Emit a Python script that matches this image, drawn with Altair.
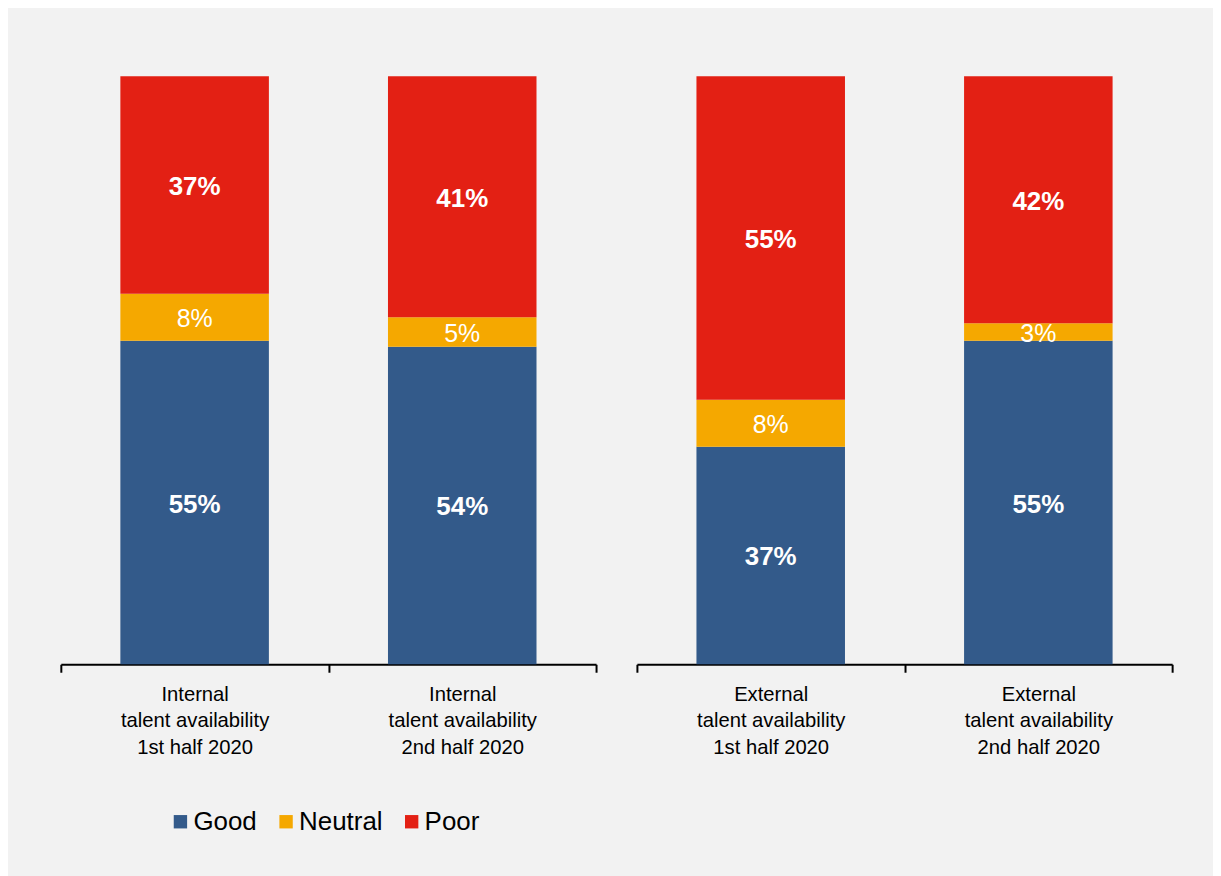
import altair as alt
import pandas as pd

# ---- data ----
panels = ["Internal", "Internal", "External", "External"]
periods = ["1st half 2020", "2nd half 2020", "1st half 2020", "2nd half 2020"]
statuses = ["Good", "Neutral", "Poor"]
good = [55, 54, 37, 55]
neutral = [8, 5, 8, 3]
poor = [37, 41, 55, 42]
colors = ["#335a8a", "#f5a800", "#e32014"]

rows = []
for i in range(len(panels)):
    cat = f"{panels[i]}|talent availability|{periods[i]}"
    for j, (s, vals) in enumerate(zip(statuses, [good, neutral, poor])):
        rows.append({"panel": panels[i], "cat": cat, "status": s, "ord": j, "value": vals[i]})
df = pd.DataFrame(rows)

FONT = "Liberation Sans"


def make_panel(name):
    base = (
        alt.Chart(df)
        .transform_filter(alt.datum.panel == name)
        .transform_stack(stack="value", groupby=["cat"], as_=["y0", "y1"],
                         sort=[alt.SortField("ord", order="ascending")])
        .transform_calculate(mid="(datum.y0 + datum.y1) / 2",
                             lab="datum.value + '%'")
    )
    xscale = alt.Scale(paddingInner=0, paddingOuter=0)
    x = alt.X(
        "cat:N",
        title=None,
        sort=None,
        scale=xscale,
        axis=alt.Axis(
            labelExpr="split(datum.label, '|')",
            labelAngle=0,
            labelFont=FONT,
            labelFontSize=20.3,
            labelColor="#000000",
            labelLineHeight=26.7,
            labelPadding=12,
            domainColor="#000000",
            domainWidth=2,
            tickColor="#000000",
            tickWidth=2,
            tickSize=8,
            tickBand="extent",
            grid=False,
        ),
    )
    yscale = alt.Scale(domain=[0, 100], nice=False)
    bars = base.mark_bar(stroke=None, width=alt.RelativeBandSize(0.555)).encode(
        x=x,
        y=alt.Y("y0:Q", scale=yscale, axis=None),
        y2="y1:Q",
        color=alt.Color(
            "status:N",
            scale=alt.Scale(domain=statuses, range=colors),
            legend=alt.Legend(
                title=None,
                orient="none",
                direction="horizontal",
                legendX=107,
                legendY=735,
                symbolType="square",
                symbolSize=180,
                symbolStrokeWidth=0,
                labelFont=FONT,
                labelFontSize=26,
                labelColor="#000000",
                labelOffset=0,
                columnPadding=16,
            ),
        ),
    )
    bold = base.transform_filter(alt.datum.status != "Neutral").mark_text(
        font=FONT, fontSize=26, fontWeight="bold", color="white", baseline="middle", dy=2
    ).encode(x=alt.X("cat:N", sort=None), y=alt.Y("mid:Q", scale=yscale), text="lab:N")
    normal = base.transform_filter(alt.datum.status == "Neutral").mark_text(
        font=FONT, fontSize=25, fontWeight="normal", color="white", baseline="middle", dy=2
    ).encode(x=alt.X("cat:N", sort=None), y=alt.Y("mid:Q", scale=yscale), text="lab:N")
    return alt.layer(bars, bold, normal).properties(width=537, height=590)


chart = (
    alt.hconcat(make_panel("Internal"), make_panel("External"), spacing=39)
    .properties(padding={"left": 52, "top": 67, "right": 40, "bottom": 40},
                background="#f2f2f2")
    .configure_view(stroke=None)
)

chart.save("out.html", embed_options={"renderer": "svg", "actions": False})
